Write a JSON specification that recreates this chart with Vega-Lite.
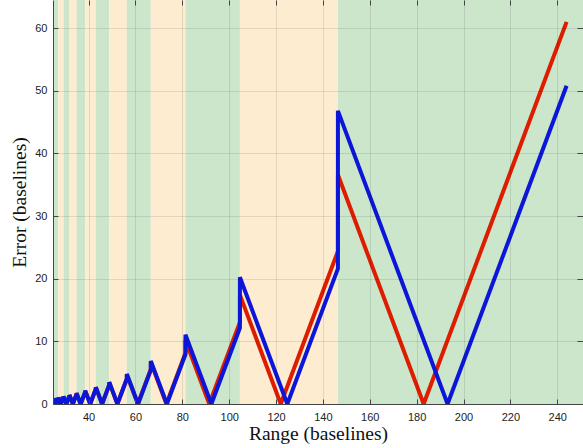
{
  "$schema": "https://vega.github.io/schema/vega-lite/v6.json",
  "width": 530,
  "height": 404,
  "autosize": "none",
  "padding": {"left": 53, "top": 0, "right": 0, "bottom": 44},
  "background": "white",
  "config": {
    "view": {"stroke": null},
    "axis": {
      "domainColor": "#444444",
      "tickColor": "#444444",
      "labelFont": "Liberation Sans",
      "labelFontSize": 11,
      "labelColor": "#222222",
      "titleFont": "Liberation Serif",
      "titleFontSize": 19.5,
      "titleFontWeight": "normal",
      "titleColor": "#111111",
      "gridColor": "#000000",
      "gridOpacity": 0.1,
      "labelFlush": false,
      "labelOverlap": false
    }
  },
  "datasets": {
    "bands": [
      {"x1": 24.8, "x2": 25.241, "kind": "odd"},
      {"x1": 25.241, "x2": 27.111, "kind": "even"},
      {"x1": 27.111, "x2": 29.28, "kind": "odd"},
      {"x1": 29.28, "x2": 31.826, "kind": "even"},
      {"x1": 31.826, "x2": 34.857, "kind": "odd"},
      {"x1": 34.857, "x2": 38.526, "kind": "even"},
      {"x1": 38.526, "x2": 43.059, "kind": "odd"},
      {"x1": 43.059, "x2": 48.8, "kind": "even"},
      {"x1": 48.8, "x2": 56.308, "kind": "odd"},
      {"x1": 56.308, "x2": 66.545, "kind": "even"},
      {"x1": 66.545, "x2": 81.333, "kind": "odd"},
      {"x1": 81.333, "x2": 104.571, "kind": "even"},
      {"x1": 104.571, "x2": 146.4, "kind": "odd"},
      {"x1": 146.4, "x2": 251, "kind": "even"}
    ],
    "errors": [
      {"s": "red", "i": 0, "x": 24.8, "y": 0.4},
      {"s": "red", "i": 1, "x": 25.241, "y": 0.841},
      {"s": "red", "i": 2, "x": 25.241, "y": 0.902},
      {"s": "red", "i": 3, "x": 26.143, "y": 0},
      {"s": "red", "i": 4, "x": 27.111, "y": 0.968},
      {"s": "red", "i": 5, "x": 27.111, "y": 1.043},
      {"s": "red", "i": 6, "x": 28.154, "y": 0},
      {"s": "red", "i": 7, "x": 29.28, "y": 1.126},
      {"s": "red", "i": 8, "x": 29.28, "y": 1.22},
      {"s": "red", "i": 9, "x": 30.5, "y": 0},
      {"s": "red", "i": 10, "x": 31.826, "y": 1.326},
      {"s": "red", "i": 11, "x": 31.826, "y": 1.447},
      {"s": "red", "i": 12, "x": 33.273, "y": 0},
      {"s": "red", "i": 13, "x": 34.857, "y": 1.584},
      {"s": "red", "i": 14, "x": 34.857, "y": 1.743},
      {"s": "red", "i": 15, "x": 36.6, "y": 0},
      {"s": "red", "i": 16, "x": 38.526, "y": 1.926},
      {"s": "red", "i": 17, "x": 38.526, "y": 2.141},
      {"s": "red", "i": 18, "x": 40.667, "y": 0},
      {"s": "red", "i": 19, "x": 43.059, "y": 2.392},
      {"s": "red", "i": 20, "x": 43.059, "y": 2.691},
      {"s": "red", "i": 21, "x": 45.75, "y": 0},
      {"s": "red", "i": 22, "x": 48.8, "y": 3.05},
      {"s": "red", "i": 23, "x": 48.8, "y": 3.486},
      {"s": "red", "i": 24, "x": 52.286, "y": 0},
      {"s": "red", "i": 25, "x": 56.308, "y": 4.022},
      {"s": "red", "i": 26, "x": 56.308, "y": 4.692},
      {"s": "red", "i": 27, "x": 61, "y": 0},
      {"s": "red", "i": 28, "x": 66.545, "y": 5.545},
      {"s": "red", "i": 29, "x": 66.545, "y": 6.655},
      {"s": "red", "i": 30, "x": 73.2, "y": 0},
      {"s": "red", "i": 31, "x": 81.333, "y": 8.133},
      {"s": "red", "i": 32, "x": 81.333, "y": 10.167},
      {"s": "red", "i": 33, "x": 91.5, "y": 0},
      {"s": "red", "i": 34, "x": 104.571, "y": 13.071},
      {"s": "red", "i": 35, "x": 104.571, "y": 17.429},
      {"s": "red", "i": 36, "x": 122, "y": 0},
      {"s": "red", "i": 37, "x": 146.4, "y": 24.4},
      {"s": "red", "i": 38, "x": 146.4, "y": 36.6},
      {"s": "red", "i": 39, "x": 183, "y": 0},
      {"s": "red", "i": 40, "x": 244, "y": 61},
      {"s": "blue", "i": 0, "x": 24.8, "y": 0.4},
      {"s": "blue", "i": 1, "x": 25.241, "y": 0.841},
      {"s": "blue", "i": 2, "x": 25.241, "y": 0.902},
      {"s": "blue", "i": 3, "x": 26.143, "y": 0},
      {"s": "blue", "i": 4, "x": 27.111, "y": 0.968},
      {"s": "blue", "i": 5, "x": 27.111, "y": 1.043},
      {"s": "blue", "i": 6, "x": 28.154, "y": 0},
      {"s": "blue", "i": 7, "x": 29.28, "y": 1.126},
      {"s": "blue", "i": 8, "x": 29.28, "y": 1.22},
      {"s": "blue", "i": 9, "x": 30.5, "y": 0},
      {"s": "blue", "i": 10, "x": 31.826, "y": 1.326},
      {"s": "blue", "i": 11, "x": 31.826, "y": 1.447},
      {"s": "blue", "i": 12, "x": 33.273, "y": 0},
      {"s": "blue", "i": 13, "x": 34.857, "y": 1.584},
      {"s": "blue", "i": 14, "x": 34.857, "y": 1.743},
      {"s": "blue", "i": 15, "x": 36.6, "y": 0},
      {"s": "blue", "i": 16, "x": 38.526, "y": 1.926},
      {"s": "blue", "i": 17, "x": 38.526, "y": 2.141},
      {"s": "blue", "i": 18, "x": 40.667, "y": 0},
      {"s": "blue", "i": 19, "x": 43.059, "y": 2.392},
      {"s": "blue", "i": 20, "x": 43.059, "y": 2.691},
      {"s": "blue", "i": 21, "x": 45.75, "y": 0},
      {"s": "blue", "i": 22, "x": 48.8, "y": 3.05},
      {"s": "blue", "i": 23, "x": 48.8, "y": 3.486},
      {"s": "blue", "i": 24, "x": 52.286, "y": 0},
      {"s": "blue", "i": 25, "x": 56.308, "y": 4.022},
      {"s": "blue", "i": 26, "x": 56.308, "y": 4.792},
      {"s": "blue", "i": 27, "x": 61.1, "y": 0},
      {"s": "blue", "i": 28, "x": 66.545, "y": 5.445},
      {"s": "blue", "i": 29, "x": 66.545, "y": 6.855},
      {"s": "blue", "i": 30, "x": 73.4, "y": 0},
      {"s": "blue", "i": 31, "x": 81.333, "y": 7.933},
      {"s": "blue", "i": 32, "x": 81.333, "y": 11.067},
      {"s": "blue", "i": 33, "x": 92.4, "y": 0},
      {"s": "blue", "i": 34, "x": 104.571, "y": 12.171},
      {"s": "blue", "i": 35, "x": 104.571, "y": 20.229},
      {"s": "blue", "i": 36, "x": 124.8, "y": 0},
      {"s": "blue", "i": 37, "x": 146.4, "y": 21.6},
      {"s": "blue", "i": 38, "x": 146.4, "y": 46.8},
      {"s": "blue", "i": 39, "x": 193.2, "y": 0},
      {"s": "blue", "i": 40, "x": 244, "y": 50.8}
    ]
  },
  "layer": [
    {
      "data": {"name": "bands"},
      "mark": {"type": "rect"},
      "encoding": {
        "x": {
          "field": "x1",
          "type": "quantitative",
          "scale": {"domain": [24.8, 251], "nice": false, "zero": false},
          "axis": {
            "orient": "bottom",
            "values": [40, 60, 80, 100, 120, 140, 160, 180, 200, 220, 240],
            "title": "Range (baselines)",
            "grid": true,
            "tickSize": -5,
            "labelPadding": 12,
            "titlePadding": 2,
            "zindex": 1
          }
        },
        "x2": {"field": "x2"},
        "color": {
          "field": "kind",
          "type": "nominal",
          "scale": {"domain": ["even", "odd"], "range": ["#cce6cc", "#fdecd0"]},
          "legend": null
        }
      }
    },
    {
      "data": {"name": "errors"},
      "transform": [{"filter": "datum.s == 'red'"}],
      "mark": {"type": "line", "strokeWidth": 4, "color": "#dd1c00", "clip": true},
      "encoding": {
        "x": {"field": "x", "type": "quantitative", "axis": null},
        "y": {
          "field": "y",
          "type": "quantitative",
          "scale": {"domain": [0, 64.5], "nice": false},
          "axis": {
            "orient": "left",
            "values": [0, 10, 20, 30, 40, 50, 60],
            "title": "Error (baselines)",
            "grid": true,
            "tickSize": -5,
            "labelPadding": 11,
            "titlePadding": 5,
            "zindex": 1
          }
        },
        "order": {"field": "i"}
      }
    },
    {
      "data": {"name": "errors"},
      "transform": [{"filter": "datum.s == 'blue'"}],
      "mark": {"type": "line", "strokeWidth": 4, "color": "#0b16d8", "clip": true},
      "encoding": {
        "x": {
          "field": "x",
          "type": "quantitative",
          "axis": {
            "orient": "top",
            "values": [40, 60, 80, 100, 120, 140, 160, 180, 200, 220, 240],
            "labels": false,
            "title": null,
            "domain": false,
            "grid": false,
            "tickSize": -5,
            "zindex": 1
          }
        },
        "y": {
          "field": "y",
          "type": "quantitative",
          "axis": {
            "orient": "right",
            "values": [0, 10, 20, 30, 40, 50, 60],
            "labels": false,
            "title": null,
            "domain": false,
            "grid": false,
            "tickSize": -6,
            "zindex": 1
          }
        },
        "order": {"field": "i"}
      }
    }
  ],
  "resolve": {"axis": {"x": "independent", "y": "independent"}}
}
